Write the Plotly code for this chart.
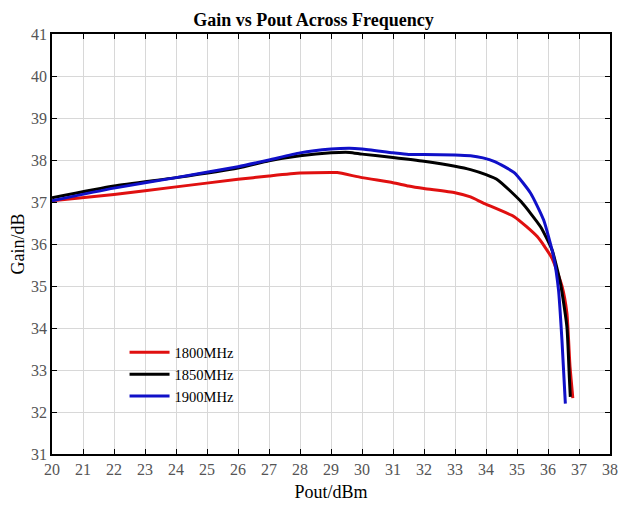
import plotly.graph_objects as go

# Data
x_1800 = [20, 22, 24, 26, 27, 28, 29, 29.2, 30, 31, 31.5, 32, 33, 33.5, 33.9, 34.91, 35.66, 36.13, 36.45, 36.61, 36.71, 36.78, 36.8]
g_1800 = [37.03, 37.18, 37.36, 37.54, 37.62, 37.69, 37.7, 37.7, 37.58, 37.46, 37.38, 37.32, 37.22, 37.12, 36.98, 36.65, 36.17, 35.66, 35.0, 34.35, 33.08, 32.5, 32.33]

x_1850 = [20, 22, 24, 26, 27, 28, 29, 29.6, 30, 31, 32, 33, 33.5, 34.0, 34.39, 35.13, 35.76, 36.13, 36.4, 36.61, 36.69, 36.72]
g_1850 = [37.1, 37.38, 37.58, 37.81, 37.98, 38.1, 38.17, 38.18, 38.14, 38.06, 37.97, 37.85, 37.77, 37.65, 37.52, 37.01, 36.41, 35.86, 35.07, 34.03, 32.8, 32.36]

x_1900 = [20, 22, 24, 26, 27, 28, 29, 29.6, 30, 31, 31.5, 32, 33, 33.5, 33.9, 34.28, 34.91, 35.44, 35.86, 36.18, 36.34, 36.45, 36.56]
g_1900 = [37.03, 37.33, 37.58, 37.84, 38.0, 38.17, 38.26, 38.28, 38.26, 38.17, 38.13, 38.13, 38.12, 38.1, 38.05, 37.96, 37.7, 37.21, 36.57, 35.7, 34.9, 33.71, 32.2]

series_names = ["1800MHz", "1850MHz", "1900MHz"]
series_colors = ["#e01010", "#000000", "#1010c8"]

x_ticks = list(range(20, 39))
y_ticks = list(range(31, 42))

FONT = "Liberation Serif"

fig = go.Figure()
for name, xs, ys, c in zip(series_names, [x_1800, x_1850, x_1900], [g_1800, g_1850, g_1900], series_colors):
    fig.add_trace(go.Scatter(x=xs, y=ys, mode="lines", name=name,
                             line=dict(color=c, width=3, shape="spline", smoothing=0.5)))

axis_common = dict(showgrid=True, gridcolor="#d8d8d8", gridwidth=1,
                   showline=True, linecolor="#000000", linewidth=1.5, mirror="ticks",
                   ticks="inside", ticklen=5, tickcolor="#000000", tickwidth=1,
                   zeroline=False, automargin=False, ticklabeloverflow="allow",
                   tickfont=dict(family=FONT, size=16, color="#555555"))

fig.update_layout(
    width=611, height=494,
    margin=dict(l=44, r=9, t=26, b=48),
    paper_bgcolor="white", plot_bgcolor="white",
    title=dict(text="<b>Gain vs Pout Across Frequency</b>", x=0.5, xanchor="center",
               y=0.99, yanchor="top",
               font=dict(family=FONT, size=18, color="#000000")),
    xaxis=dict(range=[20, 38], tickvals=x_ticks, title=dict(text="Pout/dBm", standoff=13,
               font=dict(family=FONT, size=18, color="#000000")), **axis_common),
    yaxis=dict(range=[31, 41], tickvals=y_ticks, title=dict(text="Gain/dB", standoff=8,
               font=dict(family=FONT, size=18, color="#000000")), **axis_common),
    legend=dict(x=0.13, y=0.28, xanchor="left", yanchor="top", bgcolor="rgba(0,0,0,0)",
                font=dict(family=FONT, size=14.5, color="#000000"), tracegroupgap=0,
                itemwidth=40),
    showlegend=True,
)

fig.write_html("out.html")
